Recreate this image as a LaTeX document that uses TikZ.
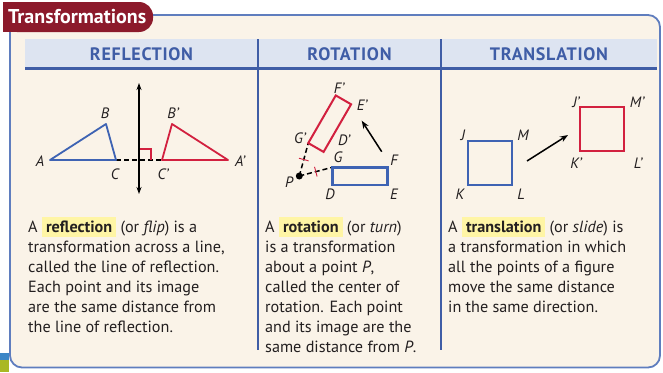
\documentclass[tikz,border=0pt]{standalone}
\usepackage{fontspec}
\setmainfont{PT Sans}
\usepackage{xcolor}
\usepackage{tikz}
\usetikzlibrary{arrows.meta,calc}
\definecolor{tabred}{HTML}{8C1A2B}
\definecolor{frameblue}{HTML}{5F7DBE}
\definecolor{ruleblue}{HTML}{3F5DA6}
\definecolor{bandblue}{HTML}{DDE4F1}
\definecolor{cream}{HTML}{FAF3E8}
\definecolor{figblue}{HTML}{3E63B3}
\definecolor{figred}{HTML}{D2203F}
\definecolor{hlyellow}{HTML}{FFF5A5}
\definecolor{inkdark}{HTML}{231F20}
\definecolor{chipblue}{HTML}{3C86C6}
\definecolor{chipgreen}{HTML}{A9B824}
\newcommand{\hlterm}[1]{{\setlength{\fboxsep}{0pt}%
  \colorbox{hlyellow}{\rule[-4.5pt]{0pt}{19.5pt}\hspace{4pt}\textbf{#1}\hspace{4pt}}}}
\tikzset{
  headtext/.style={
    font=\fontsize{18}{20}\selectfont\bfseries\addfontfeature{LetterSpace=4},
    text=ruleblue, inner sep=0pt
  },
  bodytext/.style={
    font=\fontsize{16.2}{20}\selectfont, text=inkdark,
    align=left, anchor=north west, inner sep=0pt
  },
  figlabel/.style={
    font=\fontsize{15}{16}\selectfont\itshape, text=inkdark, inner sep=0pt
  },
  figshape/.style={
    draw=#1, line width=1.8pt
  },
  figshape/.default=figblue,
  movearrow/.style={
    -{Stealth[length=8pt,width=6pt]}, line width=1.5pt, color=black
  },
  guideline/.style={
    dash pattern=on 5pt off 3pt, line width=1.5pt, color=black
  },
  tickmark/.style={
    draw=figred, line width=0.9pt
  },
}

\begin{document}
\begin{tikzpicture}[x=1pt, y=-1pt]
  \useasboundingbox (0,0) rectangle (663,372);

  % Frame and title tab
  \draw[frameblue, line width=1.8pt, fill=cream, rounded corners=12pt]
    (150,15) -- (660,15) -- (660,367.5) -- (10,367.5) -- (10,25);
  \fill[tabred, rounded corners=14pt] (3,2) rectangle (153,32);
  \fill[tabred] (3,2) rectangle (40,32);
  \node[font=\fontsize{20}{21}\selectfont\bfseries, text=white,
        anchor=west, inner sep=0pt] (title) at (8,17) {Transformations};
  \fill[chipblue] (0,353) rectangle (9,360);
  \fill[chipgreen] (0,360) rectangle (9,372);

  % Header band and columns
  \fill[bandblue] (25,39) rectangle (657,67);
  \draw[ruleblue, line width=3pt] (25,68.5) -- (657,68.5);
  \draw[ruleblue, line width=2pt] (258,39) -- (258,350);
  \draw[ruleblue, line width=2pt] (441,39) -- (441,350);
  \node[headtext] (hreflect) at (141.5,54.5) {REFLECTION};
  \node[headtext] (hrotate) at (349.5,54.5) {ROTATION};
  \node[headtext] (htranslate) at (549,54.5) {TRANSLATION};

  % Reflection
  \coordinate (A) at (50,160);
  \coordinate (B) at (106,124);
  \coordinate (C) at (116,160);
  \coordinate (Ap) at (228,160);
  \coordinate (Bp) at (172,124);
  \coordinate (Cp) at (162,160);
  \coordinate (mtop) at (139,83);
  \coordinate (mbot) at (139,194);
  \draw[guideline] (C) -- (Cp);
  \draw[figshape=figred, line width=1.3pt] (139,149) -- (151,149) -- (151,160);
  \draw[figshape, line join=round] (A) -- (B) -- (C) -- cycle;
  \draw[figshape=figred, line join=round] (Ap) -- (Bp) -- (Cp) -- cycle;
  \draw[{Stealth[length=7pt,width=5pt]}-{Stealth[length=7pt,width=5pt]},
        line width=1.4pt] (mtop) -- (mbot);
  \node[figlabel] (lA) at (40,161) {A};
  \node[figlabel] (lB) at (105,113) {B};
  \node[figlabel] (lC) at (115,174) {C};
  \node[figlabel] (lAp) at (240,161) {A’};
  \node[figlabel] (lBp) at (173,113) {B’};
  \node[figlabel] (lCp) at (163,174) {C’};

  % Rotation
  \coordinate (P) at (299.3,176);
  \coordinate (G) at (332.3,167.3);
  \coordinate (F) at (387.3,167.3);
  \coordinate (E) at (387.3,185);
  \coordinate (D) at (332.3,185);
  \coordinate (Gp) at ($(P)!1!60:(G)$);
  \coordinate (Fp) at ($(P)!1!60:(F)$);
  \coordinate (Ep) at ($(P)!1!60:(E)$);
  \coordinate (Dp) at ($(P)!1!60:(D)$);
  \coordinate (mPG) at ($(P)!0.5!(G)$);
  \coordinate (mPGp) at ($(P)!0.5!(Gp)$);
  \draw[guideline] (P) -- (G);
  \draw[guideline] (P) -- (Gp);
  \draw[tickmark] ($(mPG)!5pt!90:(G)$) -- ($(mPG)!5pt!-90:(G)$);
  \draw[tickmark] ($(mPGp)!5pt!90:(Gp)$) -- ($(mPGp)!5pt!-90:(Gp)$);
  \draw[figshape, line width=2.4pt] (G) -- (F) -- (E) -- (D) -- cycle;
  \draw[figshape=figred, line width=2pt] (Gp) -- (Fp) -- (Ep) -- (Dp) -- cycle;
  \fill[black] (P) circle (3.5pt);
  \coordinate (rtail) at (381.7,151.7);
  \coordinate (rhead) at (361.7,120.7);
  \draw[movearrow] (rtail) -- (rhead);
  \node[figlabel] (lP) at (289,182) {P};
  \node[figlabel] (lG) at (338,157) {G};
  \node[figlabel] (lF) at (394,160) {F};
  \node[figlabel] (lD) at (330,194) {D};
  \node[figlabel] (lE) at (394,194) {E};
  \node[figlabel] (lGp) at (300,138) {G’};
  \node[figlabel] (lDp) at (344,140) {D’};
  \node[figlabel] (lEp) at (362,105) {E’};
  \node[figlabel] (lFp) at (339,88) {F’};

  % Translation
  \coordinate (J) at (468,141);
  \coordinate (M) at (512,141);
  \coordinate (L) at (512,185);
  \coordinate (K) at (468,185);
  \coordinate (Jp) at (580,107);
  \coordinate (Mp) at (624,107);
  \coordinate (Lp) at (624,151);
  \coordinate (Kp) at (580,151);
  \coordinate (ttail) at (527,161);
  \coordinate (thead) at (568,135);
  \draw[figshape, line width=2.2pt] (J) -- (M) -- (L) -- (K) -- cycle;
  \draw[figshape=figred, line width=2.2pt] (Jp) -- (Mp) -- (Lp) -- (Kp) -- cycle;
  \draw[movearrow] (ttail) -- (thead);
  \node[figlabel] (lJ) at (463,135) {J};
  \node[figlabel] (lM) at (523,135) {M};
  \node[figlabel] (lK) at (460,194) {K};
  \node[figlabel] (lL) at (521,194) {L};
  \node[figlabel] (lJp) at (576,102) {J’};
  \node[figlabel] (lMp) at (637,102) {M’};
  \node[figlabel] (lKp) at (576,163) {K’};
  \node[figlabel] (lLp) at (638,163) {L’};

  % Descriptions
  \node[bodytext] (treflect) at (28,217)
    {A \hlterm{reflection} (or \textit{flip}) is a\\
     transformation across a line,\\
     called the line of reflection.\\
     Each point and its image\\
     are the same distance from\\
     the line of reflection.};
  \node[bodytext] (trotate) at (265,217)
    {A \hlterm{rotation} (or \textit{turn})\\
     is a transformation\\
     about a point \textit{P},\\
     called the center of\\
     rotation. Each point\\
     and its image are the\\
     same distance from \textit{P}.};
  \node[bodytext] (ttranslate) at (448,217)
    {A \hlterm{translation} (or \textit{slide}) is\\
     a transformation in which\\
     all the points of a figure\\
     move the same distance\\
     in the same direction.};
\end{tikzpicture}
\end{document}
